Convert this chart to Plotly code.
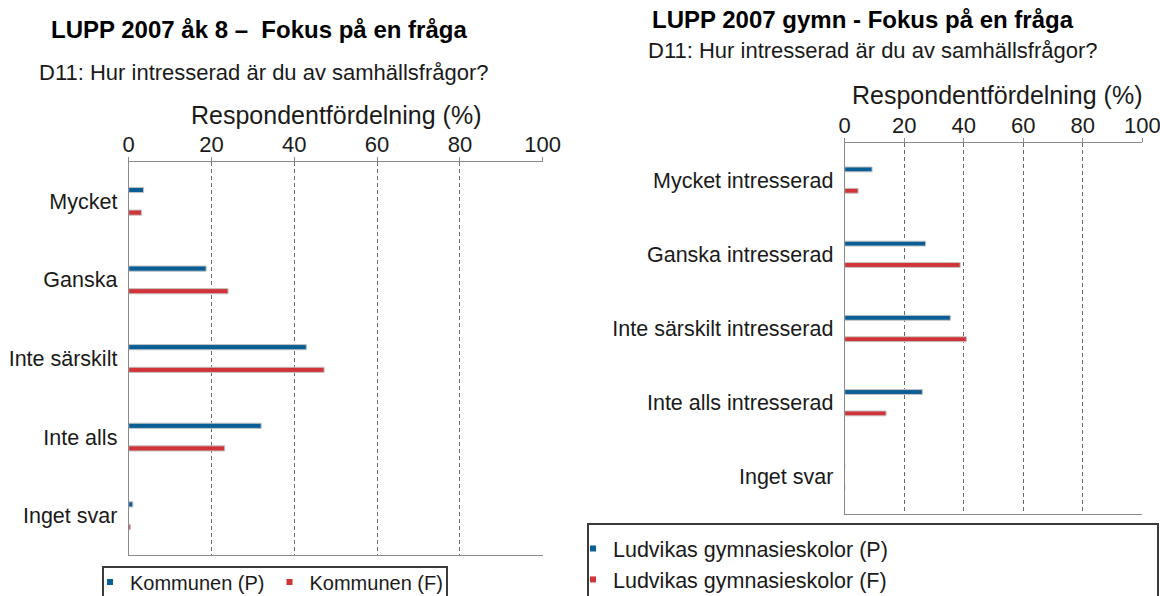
import plotly.graph_objects as go

# ---------------- data ----------------
cats_left = ["Mycket", "Ganska", "Inte särskilt", "Inte alls", "Inget svar"]
left_P = [3.6, 18.7, 42.9, 32.0, 1.0]
left_F = [3.1, 24.0, 47.2, 23.2, 0.4]

cats_right = ["Mycket intresserad", "Ganska intresserad", "Inte särskilt intresserad",
              "Inte alls intresserad", "Inget svar"]
right_P = [9.2, 27.2, 35.5, 26.1, 0]
right_F = [4.5, 38.8, 40.9, 13.9, 0]

x_ticks = [0, 20, 40, 60, 80, 100]
name_left_P = "Kommunen (P)"
name_left_F = "Kommunen (F)"
name_right_P = "Ludvikas gymnasieskolor (P)"
name_right_F = "Ludvikas gymnasieskolor (F)"

# ---------------- style ----------------
W, H = 1160, 596
BLUE = "#0a5e96"
RED = "#d13438"
OUTLINE = "#c4c4c4"
FONT = "Liberation Sans, Arial, sans-serif"
TXT = "#1a1a1a"
AX = "#8a8a8a"
GRID = "#6a6a6a"


def px(x):
    return x / W


def py(y):
    return 1 - y / H


bw = 0.066   # bar thickness (category units)
sep = 0.144  # half distance between bar centres

fig = go.Figure()


def add_bars(cats, vals, name, color, xa, ya, off):
    fig.add_trace(go.Bar(
        y=cats, x=vals, orientation="h", name=name,
        marker=dict(color=color, line=dict(color=OUTLINE, width=1)),
        width=bw, offset=off - bw / 2,
        xaxis=xa, yaxis=ya, showlegend=False,
        hovertemplate="%{y}: %{x}<extra>" + name + "</extra>",
    ))


add_bars(cats_left, left_P, name_left_P, BLUE, "x", "y", -sep)
add_bars(cats_left, left_F, name_left_F, RED, "x", "y", sep)
add_bars(cats_right, right_P, name_right_P, BLUE, "x2", "y2", -sep)
add_bars(cats_right, right_F, name_right_F, RED, "x2", "y2", sep)

# legend entries (small square keys like the original)
for name, color, lg, xa, ya, grp in [
    (name_left_P, BLUE, "legend", "x", "y", "a"),
    (name_left_F, RED, "legend", "x", "y", "b"),
    (name_right_P, BLUE, "legend2", "x2", "y2", "c"),
    (name_right_F, RED, "legend2", "x2", "y2", "d"),
]:
    fig.add_trace(go.Scatter(
        x=[None], y=[None], mode="markers", name=name,
        marker=dict(symbol="square", size=6, color=color),
        xaxis=xa, yaxis=ya, legend=lg, legendgroup=grp, showlegend=True,
    ))

xaxis_common = dict(
    range=[0, 100], tickvals=x_ticks, side="top",
    showline=True, linecolor=AX, linewidth=1, mirror=True,
    ticks="outside", ticklen=4, tickcolor=AX,
    showgrid=True, gridcolor=GRID, griddash="4px,3px", gridwidth=1,
    zeroline=False, automargin=False, ticklabeloverflow="allow",
    ticklabelstandoff=-4,
    tickfont=dict(family=FONT, size=22, color=TXT),
)
yaxis_common = dict(
    type="category", range=[4.5, -0.5],
    showline=True, linecolor=AX, linewidth=1, mirror=False,
    ticks="", showgrid=False, zeroline=False, automargin=False,
    ticklabelstandoff=6, ticklabeloverflow="allow",
    tickfont=dict(family=FONT, size=21.5, color=TXT),
)

fig.update_layout(
    width=W, height=H,
    margin=dict(l=0, r=0, t=0, b=0, autoexpand=False),
    paper_bgcolor="white", plot_bgcolor="white",
    barmode="overlay",
    font=dict(family=FONT, color=TXT),
    xaxis=dict(domain=[px(128.7), px(542.7)], anchor="y", **xaxis_common),
    yaxis=dict(domain=[py(555), py(162)], anchor="x", **yaxis_common),
    xaxis2=dict(domain=[px(844.7), px(1142.3)], anchor="y2", **xaxis_common),
    yaxis2=dict(domain=[py(514), py(143)], anchor="x2", **yaxis_common),
    legend=dict(
        orientation="h", x=px(90), xanchor="left", y=py(582), yanchor="middle",
        font=dict(family=FONT, size=20, color=TXT),
        bgcolor="rgba(0,0,0,0)", borderwidth=0, itemwidth=30,
        entrywidth=0, traceorder="normal",
    ),
    legend2=dict(
        orientation="v", x=px(573), xanchor="left", y=py(564), yanchor="middle",
        font=dict(family=FONT, size=21.5, color=TXT),
        bgcolor="rgba(0,0,0,0)", borderwidth=0, itemwidth=30,
        tracegroupgap=10, traceorder="normal",
    ),
    showlegend=True,
)

# legend boxes
fig.add_shape(type="rect", xref="paper", yref="paper",
              x0=px(103), x1=px(447), y0=py(605), y1=py(567),
              line=dict(color="#3a3a3a", width=2), fillcolor="rgba(0,0,0,0)", layer="below")
fig.add_shape(type="rect", xref="paper", yref="paper",
              x0=px(588), x1=px(1158), y0=py(605), y1=py(524),
              line=dict(color="#3a3a3a", width=2), fillcolor="rgba(0,0,0,0)", layer="below")

# titles and texts
def ann(text, x, y, size, anchor="center", bold=False, color=TXT):
    fig.add_annotation(
        text=text, xref="paper", yref="paper", x=px(x), y=py(y),
        xanchor=anchor, yanchor="middle", showarrow=False,
        font=dict(family=FONT, size=size, color=color, weight="bold" if bold else "normal"),
    )


ann("LUPP 2007 åk 8 –  Fokus på en fråga", 49, 30, 24, "left", True, "#000")
ann("D11: Hur intresserad är du av samhällsfrågor?", 37, 73, 22, "left")
ann("Respondentfördelning (%)", 336, 115, 25)

ann("LUPP 2007 gymn - Fokus på en fråga", 863, 20, 24, "center", True, "#000")
ann("D11: Hur intresserad är du av samhällsfrågor?", 873, 51, 22)
ann("Respondentfördelning (%)", 997, 95, 25)

fig.write_html(
    "out.html",
    config={"displayModeBar": False},
    post_script="document.body.style.margin='0px';document.body.style.overflow='hidden';",
)
